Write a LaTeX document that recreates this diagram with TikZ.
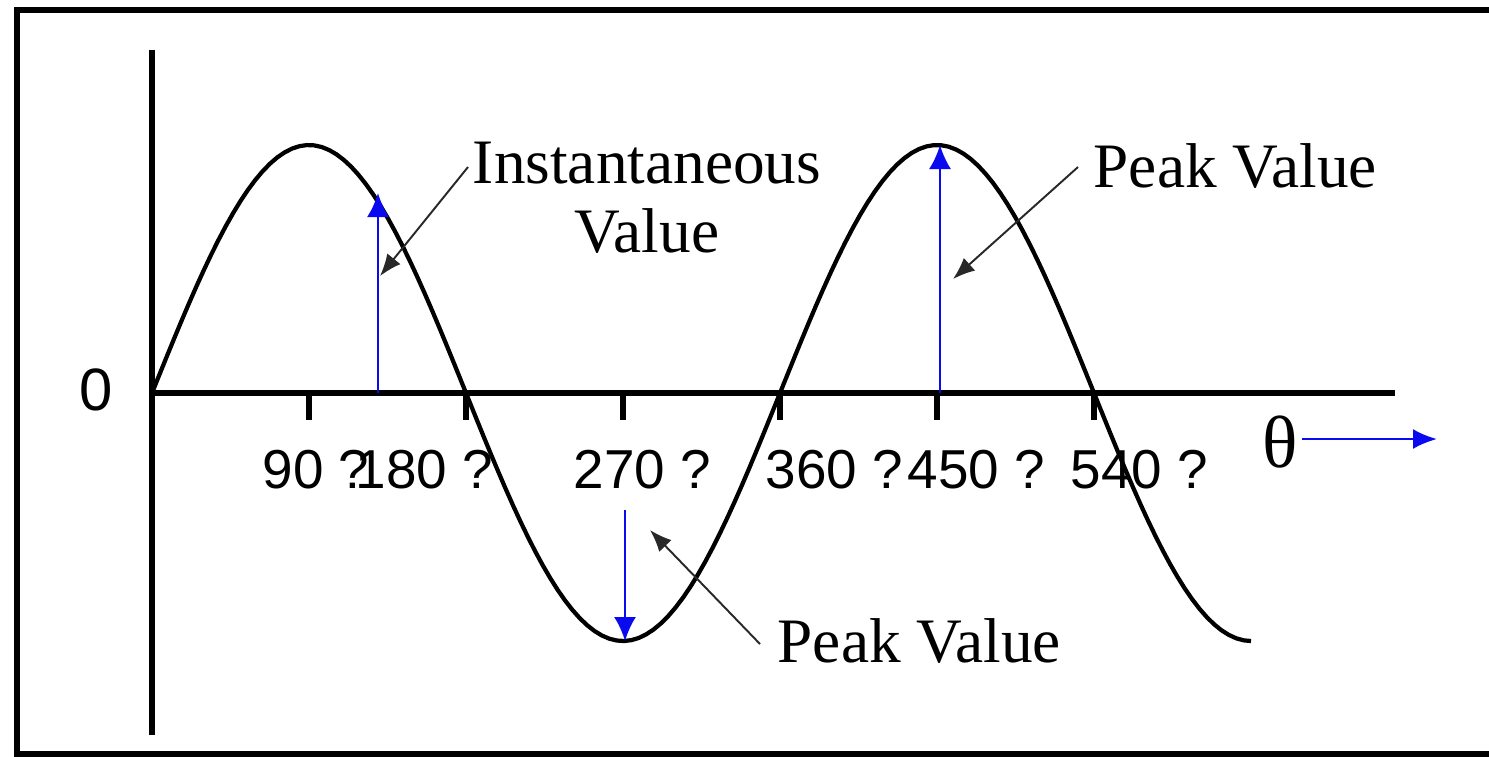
\documentclass[tikz,border=0pt]{standalone}
\usepackage{fontspec}
\setmainfont{Liberation Serif}
\newfontfamily\arialfont{Liberation Sans}
\usepackage{tikz}
\usetikzlibrary{arrows.meta}
\definecolor{AzulFlecha}{RGB}{10,10,240}
\definecolor{GrisPuntero}{RGB}{40,40,40}
\tikzset{
  eje/.style={line width=1.45pt},
  onda/.style={line width=1.2pt},
  valor/.style={AzulFlecha,line width=0.65pt,-{Latex[length=0.24cm,width=0.22cm]}},
  puntero/.style={GrisPuntero,line width=0.55pt,-{Latex[length=0.22cm,width=0.17cm]}},
  grado/.style={font=\arialfont\fontsize{15.6}{18}\selectfont,anchor=base west,inner sep=0pt},
  rotulo/.style={font=\fontsize{18}{19.6}\selectfont,inner sep=0pt}
}

\begin{document}
\begin{tikzpicture}[x=0.01cm,y=-0.01cm,>=Latex]
  \clip (0,0) rectangle (1489,756);
  \draw[line width=1.9pt] (17,10) rectangle (1520,754);
  % ejes
  \coordinate (o) at (152,393);
  \coordinate (ytop) at (152,50);
  \coordinate (ybot) at (152,735);
  \coordinate (xend) at (1395,393);
  \draw[eje] (ybot) -- (ytop);
  \draw[eje] (o) -- (xend);
  \node[font=\arialfont\fontsize{17}{20}\selectfont] (cero) at (96,390) {0};
  \foreach \k in {1,...,6}
    \draw[eje] ({152+157*\k},393) -- ++(0,27);
  % onda
  \draw[onda] plot[domain=0:630,samples=150] ({152+1.74444*\x},{393-248*sin(\x)});
  % grados
  \node[grado] (g90)  at (262,488) {90 ?};
  \node[grado] (g180) at (355,488) {180 ?};
  \node[grado] (g270) at (573,488) {270 ?};
  \node[grado] (g360) at (765,488) {360 ?};
  \node[grado] (g450) at (907,488) {450 ?};
  \node[grado] (g540) at (1070,488) {540 ?};
  % theta
  \node[font=\fontsize{21}{24}\selectfont,inner sep=0pt] (theta) at (1280,442) {θ};
  \coordinate (thetaend) at (1437,439);
  \draw[AzulFlecha,line width=0.75pt,-{Latex[length=0.24cm,width=0.2cm]}] (theta.east) ++(4,-3) -- (thetaend);
  % valores
  \coordinate (instbase) at (378,393);
  \coordinate (insttip) at (378,193);
  \coordinate (minbase) at (625,510);
  \coordinate (mintip) at (625,641);
  \coordinate (maxbase) at (940,393);
  \coordinate (maxtip) at (940,145);
  \draw[valor] (instbase) -- (insttip);
  \draw[valor] (minbase) -- (mintip);
  \draw[valor] (maxbase) -- (maxtip);
  % rotulos
  \node[rotulo,align=center,anchor=base] (inst) at (647,252) {Instantaneous\\Value};
  \node[rotulo,anchor=base west] (pkup) at (1093,187) {Peak Value};
  \node[rotulo,anchor=base west] (pklow) at (777,662) {Peak Value};
  \coordinate (instfrom) at (468,167);
  \coordinate (instto) at (380,276);
  \coordinate (pkupfrom) at (1078,167);
  \coordinate (pkupto) at (953,279);
  \coordinate (pklowfrom) at (760,644);
  \coordinate (pklowto) at (650,530);
  \draw[puntero] (instfrom) -- (instto);
  \draw[puntero] (pkupfrom) -- (pkupto);
  \draw[puntero] (pklowfrom) -- (pklowto);
\end{tikzpicture}
\end{document}
